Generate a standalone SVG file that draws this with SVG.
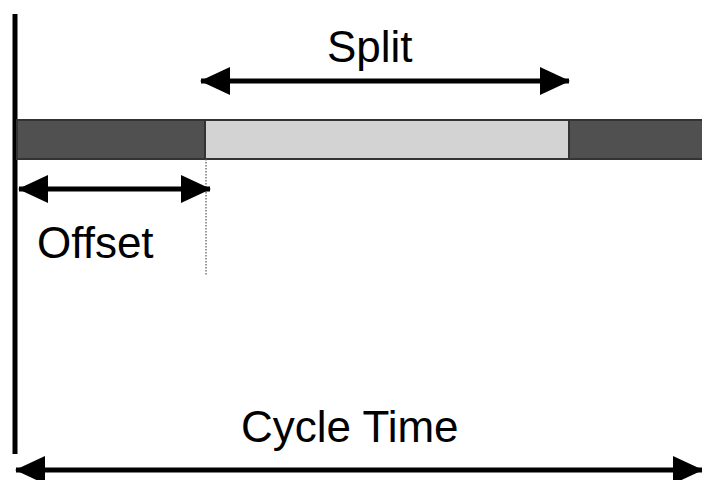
<svg xmlns="http://www.w3.org/2000/svg" width="702" height="480" viewBox="0 0 702 480">
  <style>
    .label { font-family: "Liberation Sans", Arial, sans-serif; font-size: 44px; fill: #000; }
    .dim { stroke: #000; stroke-width: 5; fill: none; marker-start: url(#head); marker-end: url(#head); }
    .phase { stroke: #333; stroke-width: 2; }
  </style>
  <defs>
    <marker id="head" markerUnits="userSpaceOnUse" viewBox="0 0 30 28" refX="29" refY="14" markerWidth="30" markerHeight="28" orient="auto-start-reverse">
      <polygon points="0,0 30,14 0,28" fill="#000"/>
    </marker>
  </defs>

  <!-- cycle start axis -->
  <g id="axis">
    <line x1="15" y1="14" x2="15" y2="454" stroke="#000" stroke-width="5"/>
  </g>

  <!-- signal phase bar -->
  <g id="bar">
    <rect class="phase" x="17" y="120" width="188" height="39" fill="#505050"/>
    <rect class="phase" x="205" y="120" width="364" height="39" fill="#d3d3d3"/>
    <rect class="phase" x="569" y="120" width="140" height="39" fill="#505050"/>
  </g>

  <g id="connectors">
    <line x1="206" y1="159" x2="206" y2="276" stroke="#555" stroke-width="1.2" stroke-dasharray="1.5,1.5"/>
    <line class="dim" x1="19" y1="189" x2="210" y2="189"/>
    <line class="dim" x1="201" y1="81" x2="569" y2="81"/>
    <line class="dim" x1="16" y1="470" x2="702" y2="470"/>
  </g>

  <g id="split-label"><text class="label" x="327" y="62">Split</text></g>
  <g id="offset-label"><text class="label" x="37" y="258">Offset</text></g>
  <g id="cycle-label"><text class="label" x="241" y="442">Cycle Time</text></g>
</svg>
